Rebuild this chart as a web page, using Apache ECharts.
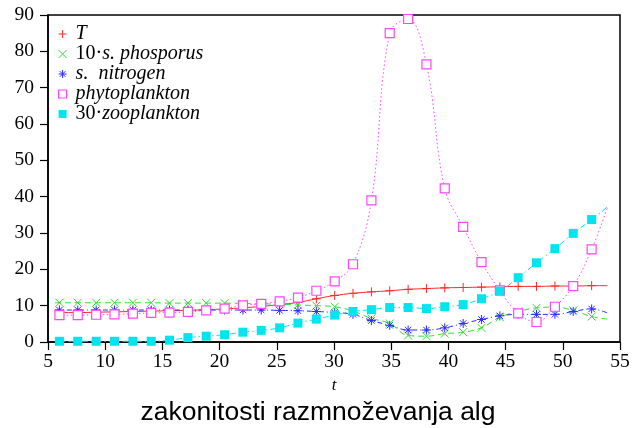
<!DOCTYPE html>
<html>
<head>
<meta charset="utf-8">
<script src="https://cdn.jsdelivr.net/npm/echarts@6/dist/echarts.min.js"></script>
<style>html,body{margin:0;padding:0;background:#fff}#c{width:636px;height:428px}</style>
</head>
<body>
<div id="c"></div>
<script>
// time values (first and last = ends of the curves, no marker)
const tVals = [5.6, 6.00, 7.60, 9.21, 10.81, 12.42, 14.02, 15.62, 17.23, 18.83, 20.44, 22.04, 23.64, 25.25, 26.85, 28.46, 30.06, 31.66, 33.27, 34.87, 36.48, 38.08, 39.68, 41.29, 42.89, 44.50, 46.10, 47.70, 49.31, 50.91, 52.52, 53.9];
const temperature = [8.0, 8.1, 8.1, 8.2, 8.3, 8.4, 8.5, 8.6, 8.7, 8.9, 9.1, 9.4, 9.8, 10.3, 10.9, 11.9, 12.8, 13.4, 13.8, 14.1, 14.5, 14.7, 14.9, 15.0, 15.1, 15.2, 15.3, 15.3, 15.4, 15.4, 15.5, 15.5];
const phosphorus10 = [10.8, 10.8, 10.8, 10.8, 10.8, 10.8, 10.8, 10.7, 10.7, 10.7, 10.7, 10.6, 10.5, 10.4, 10.2, 10.0, 9.7, 8.5, 6.5, 5.1, 1.8, 1.6, 2.3, 2.7, 3.9, 6.8, 8.4, 9.4, 9.6, 8.7, 7.0, 6.3];
const nitrogen = [8.8, 8.8, 8.8, 8.8, 8.8, 8.8, 8.8, 8.8, 8.8, 8.8, 8.8, 8.8, 8.8, 8.7, 8.6, 8.4, 8.1, 7.6, 5.9, 4.6, 3.3, 3.3, 3.9, 5.1, 6.2, 7.2, 7.6, 7.6, 7.6, 8.4, 9.1, 8.0];
const phytoplankton = [7.2, 7.4, 7.4, 7.5, 7.6, 7.8, 8.0, 8.1, 8.3, 8.7, 9.2, 10.1, 10.5, 11.2, 12.2, 14.1, 16.7, 21.4, 39.0, 85.0, 88.9, 76.4, 42.3, 31.7, 22.0, 14.2, 7.9, 5.5, 9.7, 15.4, 25.5, 37.0];
const zooplankton30 = [0.2, 0.2, 0.2, 0.2, 0.2, 0.2, 0.2, 0.5, 1.2, 1.6, 2.0, 2.7, 3.2, 3.9, 5.2, 6.3, 7.4, 8.4, 8.9, 9.5, 9.5, 9.2, 9.7, 10.3, 11.9, 14.0, 17.7, 21.8, 25.7, 29.9, 33.7, 37.2];
const seriesNames = ['T', '10·s. phosporus', 's.  nitrogen', 'phytoplankton', '30·zooplankton'];
const xTicks = {min: 5, max: 55, step: 5};
const yTicks = {min: 0, max: 90, step: 10};

const PLUS = 'path://M0,5L10,5M5,0L5,10';
const CROSS = 'path://M0,0L10,10M0,10L10,0';
const STAR = 'path://M0,5L10,5M5,0L5,10M1.5,1.5L8.5,8.5M1.5,8.5L8.5,1.5';
const SQUARE = 'path://M0,0L10,0L10,10L0,10Z';

const cfg = [
  {vals: temperature, color: '#ff2a2a', sym: PLUS, size: 9, lsize: 8, fill: '#ff2a2a', bw: 1, type: 'solid'},
  {vals: phosphorus10, color: '#2ee02e', sym: CROSS, size: 8, lsize: 8, fill: '#2ee02e', bw: 1, type: [6, 4]},
  {vals: nitrogen, color: '#2a2aff', sym: STAR, size: 9, lsize: 8, fill: '#2a2aff', bw: 1, type: [5, 3, 1, 3]},
  {vals: phytoplankton, color: '#ff44ff', sym: SQUARE, size: 9, lsize: 8, fill: '#ffffff', bw: 1.2, type: [1.5, 2.5]},
  {vals: zooplankton30, color: '#00e5ee', sym: SQUARE, size: 9, lsize: 8, fill: '#00e5ee', bw: 0, type: [6, 3, 1.5, 3]}
];
const last = tVals.length - 1;

const series = cfg.map((c, i) => ({
  name: seriesNames[i],
  type: 'line',
  smooth: 0.4,
  data: tVals.map((t, k) => [t, c.vals[k]]),
  symbol: (v, p) => (p.dataIndex === 0 || p.dataIndex === last) ? 'none' : c.sym,
  symbolSize: c.size,
  showAllSymbol: true,
  lineStyle: {color: c.color, width: 1, type: c.type},
  itemStyle: {color: c.fill, borderColor: c.color, borderWidth: c.bw},
  emphasis: {disabled: true},
  z: 2 + i
}));

const legendData = cfg.map((c, i) => ({
  name: seriesNames[i],
  icon: c.sym,
  itemStyle: {color: c.fill, borderColor: c.color, borderWidth: c.bw}
}));

const chart = echarts.init(document.getElementById('c'), null, {renderer: 'canvas'});
chart.setOption({
  animation: false,
  backgroundColor: '#fff',
  title: {
    text: 'zakonitosti razmnoževanja alg',
    left: 'center', top: 394,
    textStyle: {fontFamily: 'Liberation Sans', fontSize: 26.5, fontWeight: 'normal', color: '#000'}
  },
  grid: {left: 48, right: 16, top: 15, bottom: 86, show: true, borderColor: '#000', borderWidth: 1.5, backgroundColor: 'transparent'},
  legend: {
    data: legendData,
    orient: 'vertical', left: 53, top: 19,
    itemWidth: 16, itemHeight: 8, itemGap: 0,
    symbolKeepAspect: true,
    selectedMode: false,
    formatter: name => {
      const m = name.match(/^(\d+·)(.*)$/);
      return m ? '{u|' + m[1] + '}{i|' + m[2] + '}' : '{i|' + name + '}';
    },
    textStyle: {
      color: '#000', fontFamily: 'Liberation Serif', fontSize: 20, lineHeight: 18.7,
      rich: {
        u: {fontFamily: 'Liberation Serif', fontSize: 20, fontStyle: 'normal', color: '#000', lineHeight: 18.7},
        i: {fontFamily: 'Liberation Serif', fontSize: 20, fontStyle: 'italic', color: '#000', lineHeight: 18.7}
      }
    }
  },
  xAxis: {
    type: 'value', min: xTicks.min, max: xTicks.max, interval: xTicks.step,
    name: 't', nameLocation: 'middle', nameGap: 28,
    nameTextStyle: {fontFamily: 'Liberation Serif', fontStyle: 'italic', fontSize: 17, color: '#000'},
    axisLine: {onZero: false, lineStyle: {color: '#000', width: 1.5}},
    axisTick: {length: 8, lineStyle: {color: '#000', width: 1.2}},
    axisLabel: {margin: 10, color: '#000', fontFamily: 'Liberation Serif', fontSize: 19.5},
    splitLine: {show: false}
  },
  yAxis: {
    type: 'value', min: yTicks.min, max: yTicks.max, interval: yTicks.step,
    axisLine: {show: true, lineStyle: {color: '#000', width: 1.5}},
    axisTick: {show: true, length: 8, lineStyle: {color: '#000', width: 1.2}},
    axisLabel: {margin: 14, color: '#000', fontFamily: 'Liberation Serif', fontSize: 19.5},
    splitLine: {show: false}
  },
  series: series
});
</script>
</body>
</html>
